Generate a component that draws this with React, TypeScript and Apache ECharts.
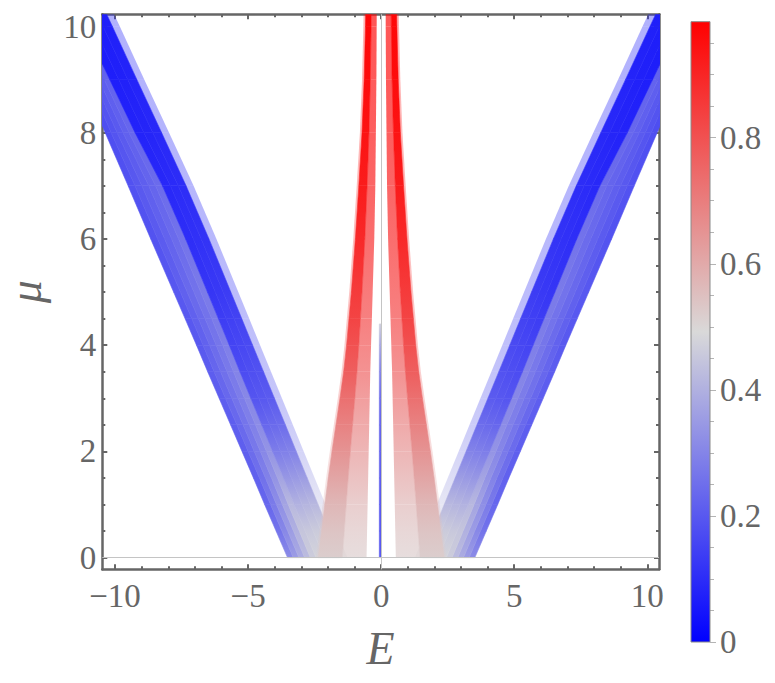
import React, { useEffect, useRef } from "react";
import * as echarts from "echarts";

// ---------- axis ranges & ticks ----------
const X_MIN = -10.48;
const X_MAX = 10.44;
const Y_MIN = -0.22;
const Y_MAX = 10.23;
const xMajorTicks = [-10, -5, 0, 5, 10];
const xMinorTicks = [-9, -8, -7, -6, -4, -3, -2, -1, 1, 2, 3, 4, 6, 7, 8, 9];
const yMajorTicks = [0, 2, 4, 6, 8, 10];
const yMinorTicks = [0.5, 1, 1.5, 2.5, 3, 3.5, 4.5, 5, 5.5, 6.5, 7, 7.5, 8.5, 9, 9.5];
const cbMajorTicks = [0, 0.2, 0.4, 0.6, 0.8];
const cbMinorTicks = [0.05, 0.1, 0.15, 0.25, 0.3, 0.35, 0.45, 0.5, 0.55, 0.65, 0.7, 0.75, 0.85, 0.9, 0.95];

// ---------- colour scale ----------
const colorStopValues = [0, 0.492, 0.984];
const colorStopColors = [
  [0, 0, 255],
  [217, 217, 217],
  [255, 0, 0],
];

// ---------- band data (left half, E < 0; right half is the mirror image) ----------
const muLevels = [0, 0.5, 1, 1.5, 2, 2.5, 3, 3.5, 4, 4.5, 5, 6, 7, 8, 9, 10, 10.3];
const blueOuterEdge = [-3.52, -3.95, -4.38, -4.8, -5.23, -5.66, -6.09, -6.52, -6.94, -7.37, -7.8, -8.66, -9.51, -10.37, -11.22, -12.08, -12.34];
const blueMidEdge = [-2.45, -2.86, -3.27, -3.67, -4.08, -4.49, -4.9, -5.31, -5.71, -6.12, -6.53, -7.35, -8.22, -9.25, -10.2, -11.15, -11.45];
const blueInnerEdge = [-1.55, -1.96, -2.37, -2.78, -3.19, -3.6, -4.01, -4.42, -4.83, -5.24, -5.65, -6.47, -7.33, -8.25, -9.18, -10.1, -10.38];
const blueFringeWidth = 0.28;
const blueLightOuterValue = [0.3, 0.24, 0.21, 0.2, 0.2, 0.2, 0.2, 0.2, 0.19, 0.19, 0.19, 0.18, 0.18, 0.17, 0.17, 0.16, 0.16];
const blueLightInnerValue = [0.48, 0.47, 0.44, 0.39, 0.35, 0.33, 0.32, 0.31, 0.3, 0.29, 0.29, 0.27, 0.25, 0.24, 0.23, 0.22, 0.22];
const blueDarkOuterValue = [0.48, 0.45, 0.4, 0.34, 0.28, 0.23, 0.19, 0.17, 0.15, 0.135, 0.12, 0.1, 0.088, 0.077, 0.068, 0.06, 0.058];
const blueDarkInnerValue = [0.49, 0.47, 0.42, 0.36, 0.3, 0.25, 0.21, 0.19, 0.17, 0.155, 0.14, 0.12, 0.105, 0.093, 0.083, 0.075, 0.072];

const redOuterEdge = [-2.37, -2.24, -2.12, -1.99, -1.85, -1.7, -1.55, -1.41, -1.3, -1.21, -1.12, -0.97, -0.84, -0.72, -0.64, -0.59, -0.58];
const redInnerEdge = [-0.55, -0.53, -0.51, -0.49, -0.47, -0.45, -0.43, -0.41, -0.38, -0.35, -0.32, -0.26, -0.22, -0.2, -0.18, -0.17, -0.17];
const redValue = [0.52, 0.54, 0.57, 0.61, 0.65, 0.69, 0.73, 0.77, 0.8, 0.83, 0.85, 0.89, 0.92, 0.94, 0.955, 0.965, 0.97];
const redFringeWidth = 0.08;

const centerMuLevels = [0, 0.5, 1, 1.5, 2, 2.5, 3, 3.5, 4, 4.4];
const centerLineValue = [0.2, 0.2, 0.2, 0.21, 0.22, 0.23, 0.25, 0.3, 0.38, 0.47];
const centerLineLeft = -0.07;
const centerLineRight = 0.0;

// ---------- helpers ----------
function valueColor(v: number): string {
  const s = colorStopValues;
  let i = 0;
  if (v >= s[s.length - 1]) i = s.length - 2;
  else while (i < s.length - 2 && v > s[i + 1]) i++;
  const t = Math.max(0, Math.min(1, (v - s[i]) / (s[i + 1] - s[i])));
  const a = colorStopColors[i];
  const b = colorStopColors[i + 1];
  const c = a.map((x, k) => Math.round(x + (b[k] - x) * t));
  return `rgb(${c[0]},${c[1]},${c[2]})`;
}

// quad cell: 4 corners, values at bottom and top (shaded bottom -> top)
type Poly = { pts: number[][]; vb: number; vt: number; opacity: number };

const lerp = (a: number, b: number, f: number) => a + (b - a) * f;

function addStrip(
  out: Poly[],
  mu: number[],
  leftE: number[],
  rightE: number[],
  leftV: number[],
  rightV: number[],
  opacity: number,
  mirror: boolean,
  slices: number
) {
  for (let i = 0; i < mu.length - 1; i++) {
    for (let k = 0; k < slices; k++) {
      const f0 = k / slices;
      const f1 = (k + 1) / slices;
      const fc = (k + 0.5) / slices;
      const a0 = lerp(leftE[i], rightE[i], f0);
      const b0 = lerp(leftE[i], rightE[i], f1);
      const a1 = lerp(leftE[i + 1], rightE[i + 1], f0);
      const b1 = lerp(leftE[i + 1], rightE[i + 1], f1);
      const vb = lerp(leftV[i], rightV[i], fc);
      const vt = lerp(leftV[i + 1], rightV[i + 1], fc);
      out.push({
        pts: [
          [a0, mu[i]],
          [b0, mu[i]],
          [b1, mu[i + 1]],
          [a1, mu[i + 1]],
        ],
        vb,
        vt,
        opacity,
      });
      if (mirror) {
        out.push({
          pts: [
            [-b0, mu[i]],
            [-a0, mu[i]],
            [-a1, mu[i + 1]],
            [-b1, mu[i + 1]],
          ],
          vb,
          vt,
          opacity,
        });
      }
    }
  }
}

function buildPolys(): Poly[] {
  const out: Poly[] = [];
  const blueFringe = blueInnerEdge.map((e) => e + blueFringeWidth);
  const redMid = redOuterEdge.map((e, i) => (e + redInnerEdge[i]) / 2);
  const redFringe = redOuterEdge.map((e) => e - redFringeWidth);
  // blue V
  addStrip(out, muLevels, blueOuterEdge, blueMidEdge, blueLightOuterValue, blueLightInnerValue, 1, true, 5);
  addStrip(out, muLevels, blueMidEdge, blueInnerEdge, blueDarkOuterValue, blueDarkInnerValue, 1, true, 3);
  addStrip(out, muLevels, blueInnerEdge, blueFringe, blueDarkInnerValue, blueDarkInnerValue, 0.35, true, 1);
  // red central V
  addStrip(out, muLevels, redFringe, redOuterEdge, redValue, redValue, 0.3, true, 1);
  addStrip(out, muLevels, redOuterEdge, redMid, redValue, redValue, 1, true, 1);
  addStrip(out, muLevels, redMid, redInnerEdge, redValue, redValue, 0.68, true, 1);
  // thin blue line at E = 0
  const m = centerMuLevels.length;
  addStrip(
    out,
    centerMuLevels,
    new Array(m).fill(centerLineLeft),
    new Array(m).fill(centerLineRight),
    centerLineValue,
    centerLineValue,
    1,
    false,
    1
  );
  return out;
}

const FONT = "'Liberation Serif', 'Times New Roman', Times, serif";
const TEXT = "#666666";
const FRAME = "#666666";
const minus = (v: number) => String(v).replace("-", "\u2212");
const cbFmt = (v: number) => (Math.abs(v) < 1e-9 ? "0" : v.toFixed(1));

export default function App() {
  const ref = useRef<HTMLDivElement>(null);
  useEffect(() => {
    if (!ref.current) return;
    const chart = echarts.init(ref.current, undefined, { renderer: "svg" });
    const polys = buildPolys();

    const labelStyle = { fontSize: 33, color: TEXT, fontFamily: FONT };
    const frameLine = { show: true, onZero: false, lineStyle: { color: FRAME, width: 2.5 } };
    const noLine = { show: false, onZero: false };
    const majorTick = (vals: number[]) => ({
      show: true,
      inside: true,
      length: 5,
      customValues: vals,
      lineStyle: { color: FRAME, width: 2 },
    });
    const minorTick = (vals: number[]) => ({
      show: true,
      inside: true,
      length: 3,
      customValues: vals,
      lineStyle: { color: FRAME, width: 2 },
    });
    const baseX = { gridIndex: 0, type: "value", min: X_MIN, max: X_MAX, splitLine: { show: false } };
    const baseY = { gridIndex: 0, type: "value", min: Y_MIN, max: Y_MAX, splitLine: { show: false } };

    const option: any = {
      animation: false,
      backgroundColor: "#ffffff",
      textStyle: { fontFamily: FONT },
      grid: [
        { left: 102.3, top: 14.3, width: 556.7, height: 555, containLabel: false, outerBoundsMode: "none" },
        { left: 691, top: 21.7, width: 19, height: 620.3, containLabel: false, outerBoundsMode: "none" },
      ],
      xAxis: [
        {
          ...baseX,
          position: "bottom",
          axisLine: frameLine,
          axisTick: majorTick(xMajorTicks),
          axisLabel: { show: true, customValues: xMajorTicks, formatter: minus, margin: 10, ...labelStyle },
          name: "E",
          nameLocation: "middle",
          nameGap: 56,
          nameTextStyle: { fontSize: 46, fontStyle: "italic", color: TEXT, fontFamily: FONT },
        },
        { ...baseX, position: "bottom", axisLine: noLine, axisTick: minorTick(xMinorTicks), axisLabel: { show: false } },
        { ...baseX, position: "top", axisLine: frameLine, axisTick: majorTick(xMajorTicks), axisLabel: { show: false } },
        { ...baseX, position: "top", axisLine: noLine, axisTick: minorTick(xMinorTicks), axisLabel: { show: false } },
        { gridIndex: 1, type: "value", min: 0, max: 1, show: false },
      ],
      yAxis: [
        {
          ...baseY,
          position: "left",
          axisLine: frameLine,
          axisTick: majorTick(yMajorTicks),
          axisLabel: { show: true, customValues: yMajorTicks, formatter: minus, margin: 6, ...labelStyle },
          name: "\u03bc",
          nameLocation: "middle",
          nameRotate: 90,
          nameGap: 54,
          nameTextStyle: { fontSize: 46, fontStyle: "italic", color: TEXT, fontFamily: FONT },
        },
        { ...baseY, position: "left", axisLine: noLine, axisTick: minorTick(yMinorTicks), axisLabel: { show: false } },
        { ...baseY, position: "right", axisLine: frameLine, axisTick: majorTick(yMajorTicks), axisLabel: { show: false } },
        { ...baseY, position: "right", axisLine: noLine, axisTick: minorTick(yMinorTicks), axisLabel: { show: false } },
        {
          gridIndex: 1,
          type: "value",
          min: 0,
          max: colorStopValues[2],
          position: "right",
          axisLine: { show: false, onZero: false },
          axisTick: {
            show: true,
            inside: false,
            length: 6,
            customValues: cbMajorTicks,
            lineStyle: { color: "#b4b4b4", width: 1 },
          },
          axisLabel: { show: true, customValues: cbMajorTicks, formatter: cbFmt, margin: 10, ...labelStyle },
          splitLine: { show: false },
        },
        {
          gridIndex: 1,
          type: "value",
          min: 0,
          max: colorStopValues[2],
          position: "right",
          axisLine: { show: false, onZero: false },
          axisTick: {
            show: true,
            inside: false,
            length: 4,
            customValues: cbMinorTicks,
            lineStyle: { color: "#b4b4b4", width: 1 },
          },
          axisLabel: { show: false },
          splitLine: { show: false },
        },
      ],
      series: [
        {
          type: "custom",
          xAxisIndex: 0,
          yAxisIndex: 0,
          clip: true,
          silent: true,
          data: polys.map((p, i) => [p.pts[0][0], p.pts[0][1], i]),
          encode: { x: 0, y: 1 },
          renderItem: (params: any, api: any) => {
            const p = polys[params.dataIndex];
            const points = p.pts.map((pt) => api.coord(pt));
            const mk = () =>
              new echarts.graphic.LinearGradient(0, 1, 0, 0, [
                { offset: 0, color: valueColor(p.vb) },
                { offset: 1, color: valueColor(p.vt) },
              ]);
            const style: any = { fill: mk(), opacity: p.opacity };
            if (p.opacity >= 1) {
              style.stroke = mk();
              style.lineWidth = 0.6;
            }
            return { type: "polygon", shape: { points }, style };
          },
        },
        {
          type: "line",
          xAxisIndex: 0,
          yAxisIndex: 0,
          data: [],
          silent: true,
          markLine: {
            silent: true,
            animation: false,
            symbol: ["none", "none"],
            label: { show: false },
            lineStyle: { color: "#c4c4c4", width: 1, type: "solid" },
            data: [{ xAxis: 0 }, { yAxis: 0 }],
          },
        },
        {
          type: "custom",
          xAxisIndex: 4,
          yAxisIndex: 4,
          silent: true,
          data: [[0, 0]],
          encode: { x: 0, y: 1 },
          renderItem: (_params: any, api: any) => {
            const a = api.coord([0, 0]);
            const b = api.coord([1, colorStopValues[2]]);
            const top = colorStopValues[2];
            const grad = new echarts.graphic.LinearGradient(
              0,
              1,
              0,
              0,
              colorStopValues.map((v, i) => ({
                offset: v / top,
                color: `rgb(${colorStopColors[i].join(",")})`,
              }))
            );
            return {
              type: "rect",
              shape: { x: a[0], y: b[1], width: b[0] - a[0], height: a[1] - b[1] },
              style: { fill: grad, stroke: "#8a8a8a", lineWidth: 1 },
            };
          },
        },
      ],
    };
    chart.setOption(option);
    return () => chart.dispose();
  }, []);
  return (
    <div
      ref={ref}
      style={{ position: "fixed", left: 0, top: 0, width: 775, height: 683, background: "#fff" }}
    />
  );
}
